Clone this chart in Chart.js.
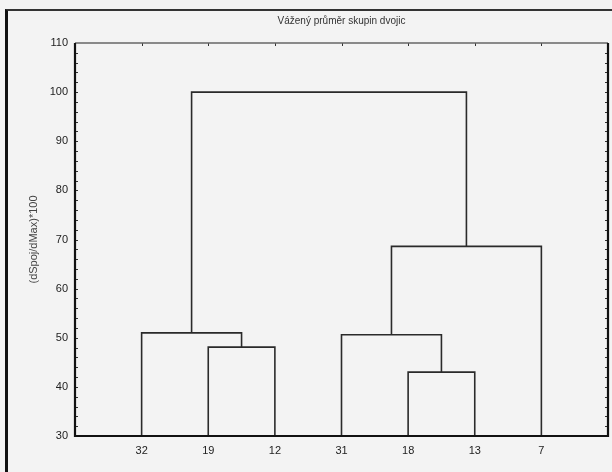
<!DOCTYPE html>
<html>
<head>
<meta charset="utf-8">
<script src="https://cdn.jsdelivr.net/npm/chart.js@4"></script>
<style>
  html, body { margin: 0; padding: 0; background: #f3f3f3; }
  #wrap { position: relative; width: 612px; height: 472px; overflow: hidden; }
  #frame { position: absolute; left: 5px; top: 9px; right: -10px; bottom: -10px;
           border-left: 3px solid #111; border-top: 2px solid #333; pointer-events: none; }
</style>
</head>
<body>
<div id="wrap">
  <canvas id="dendro" width="612" height="472"></canvas>
  <div id="frame"></div>
</div>
<script>
// leaves in display order
const leafLabels = ["32", "19", "12", "31", "18", "13", "7"];
const leafBase = 30;
// merges: node ids 0..6 are leaves, merges get ids 7,8,...
const mergeLeft = [1, 4, 0, 3, 10, 9];
const mergeRight = [2, 5, 7, 8, 6, 11];
const mergeHeight = [48.1, 43.0, 51.0, 50.6, 68.6, 100.0];
const yTicks = [30, 40, 50, 60, 70, 80, 90, 100, 110];

// node positions from the tree
const nodeX = leafLabels.map((l, i) => i + 1);
const nodeY = leafLabels.map(() => leafBase);
const datasets = [];
for (let i = 0; i < mergeHeight.length; i++) {
  const a = mergeLeft[i], b = mergeRight[i], h = mergeHeight[i];
  datasets.push({
    data: [
      { x: nodeX[a], y: nodeY[a] },
      { x: nodeX[a], y: h },
      { x: nodeX[b], y: h },
      { x: nodeX[b], y: nodeY[b] }
    ],
    showLine: true,
    borderColor: "#2a2a2a",
    borderWidth: 1.6,
    pointRadius: 0,
    tension: 0
  });
  nodeX.push((nodeX[a] + nodeX[b]) / 2);
  nodeY.push(h);
}

// frame + small inner ticks like the original
const framePlugin = {
  id: "frame",
  afterDatasetsDraw(chart) {
    const { ctx, chartArea: ca, scales } = chart;
    ctx.save();
    ctx.strokeStyle = "#333";
    ctx.lineWidth = 1;
    for (let v = 32; v < 110; v += 2) {
      const y = Math.round(scales.y.getPixelForValue(v)) + 0.5;
      ctx.beginPath();
      ctx.moveTo(ca.left, y); ctx.lineTo(ca.left + 3, y);
      ctx.moveTo(ca.right, y); ctx.lineTo(ca.right - 3, y);
      ctx.stroke();
    }
    for (let i = 1; i <= leafLabels.length; i++) {
      const x = Math.round(scales.x.getPixelForValue(i)) + 0.5;
      ctx.beginPath();
      ctx.moveTo(x, ca.top); ctx.lineTo(x, ca.top + 3);
      ctx.stroke();
    }
    ctx.strokeStyle = "#666";
    ctx.lineWidth = 1.5;
    ctx.beginPath();
    ctx.moveTo(ca.left, ca.top); ctx.lineTo(ca.right, ca.top);
    ctx.stroke();
    ctx.strokeStyle = "#111";
    ctx.lineWidth = 2.2;
    ctx.beginPath();
    ctx.moveTo(ca.left, ca.top); ctx.lineTo(ca.left, ca.bottom);
    ctx.lineTo(ca.right, ca.bottom); ctx.lineTo(ca.right, ca.top);
    ctx.stroke();
    ctx.restore();
  }
};

new Chart(document.getElementById("dendro").getContext("2d"), {
  type: "scatter",
  data: { datasets: datasets },
  plugins: [framePlugin],
  options: {
    responsive: false,
    animation: false,
    layout: { padding: { left: 0, right: 4, top: 0, bottom: 0 } },
    plugins: {
      legend: { display: false },
      tooltip: { enabled: false },
      title: {
        display: true,
        fullSize: false,
        text: "Vážený průměr skupin dvojic",
        color: "#333",
        font: { family: "Liberation Sans", size: 10, weight: "normal" },
        padding: { top: 15, bottom: 16 }
      }
    },
    scales: {
      x: {
        type: "linear",
        min: 0,
        max: leafLabels.length + 1,
        grid: { display: false, drawTicks: false },
        border: { display: false },
        afterBuildTicks(scale) {
          scale.ticks = leafLabels.map((l, i) => ({ value: i + 1 }));
        },
        afterFit(scale) { scale.height = 36; },
        ticks: {
          padding: 8,
          color: "#222",
          font: { family: "Liberation Sans", size: 11 },
          maxRotation: 0,
          callback: (v) => leafLabels[v - 1]
        }
      },
      y: {
        min: 30,
        max: 110,
        grid: { display: false, drawTicks: false },
        border: { display: false },
        afterBuildTicks(scale) {
          scale.ticks = yTicks.map((v) => ({ value: v }));
        },
        afterFit(scale) { scale.width = 75; },
        ticks: {
          padding: 7,
          color: "#222",
          font: { family: "Liberation Sans", size: 11 }
        },
        title: {
          display: true,
          text: "(dSpoj/dMax)*100",
          color: "#444",
          font: { family: "Liberation Sans", size: 11 },
          padding: { top: 27, bottom: 0 }
        }
      }
    }
  }
});
</script>
</body>
</html>
